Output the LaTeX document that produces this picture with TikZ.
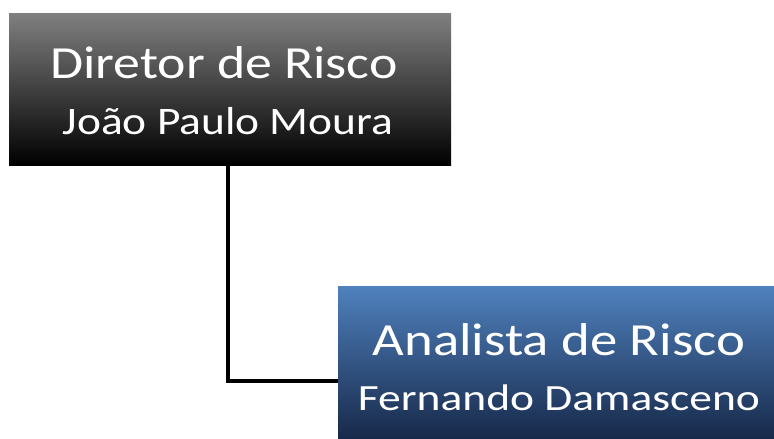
\documentclass[tikz,border=0pt]{standalone}
\usepackage{fontspec}
\setmainfont{Carlito}
\definecolor{boxgray}{HTML}{808080}
\definecolor{boxblue}{HTML}{4F81BD}
\definecolor{boxnavy}{HTML}{17294A}
\tikzset{
  box/.style={rectangle, inner sep=0pt, minimum width=#1, minimum height=152pt},
  topbox/.style={box=442pt, top color=boxgray, bottom color=black},
  bluebox/.style={box=436pt, top color=boxblue, bottom color=boxnavy},
  boxtext/.style n args={2}{anchor=base, text=white, inner sep=0pt,
    font=\fontsize{#1}{#1}\selectfont, xscale=#2, transform shape},
  conn/.style={line width=4pt}
}
\begin{document}
\begin{tikzpicture}[x=1pt,y=1pt]
    \useasboundingbox (0,0) rectangle (774,-439);
    \node[topbox] (diretor) at (230,-89) {};
    \node[bluebox] (analista) at (556,-362.5) {};
    \node[boxtext={46}{1.17}] (cargo1) at (224,-78.5) {Diretor de Risco};
    \node[boxtext={39}{1.165}] (nome1) at (228,-134) {João Paulo Moura};
    \node[boxtext={46}{1.19}] (cargo2) at (559,-355.5) {Analista de Risco};
    \node[boxtext={37}{1.23}] (nome2) at (559,-410.5) {Fernando Damasceno};
    \coordinate (joint) at (228,-381);
    \draw[conn] (diretor.south -| joint) -- (joint) -- (joint -| analista.west);
\end{tikzpicture}
\end{document}
